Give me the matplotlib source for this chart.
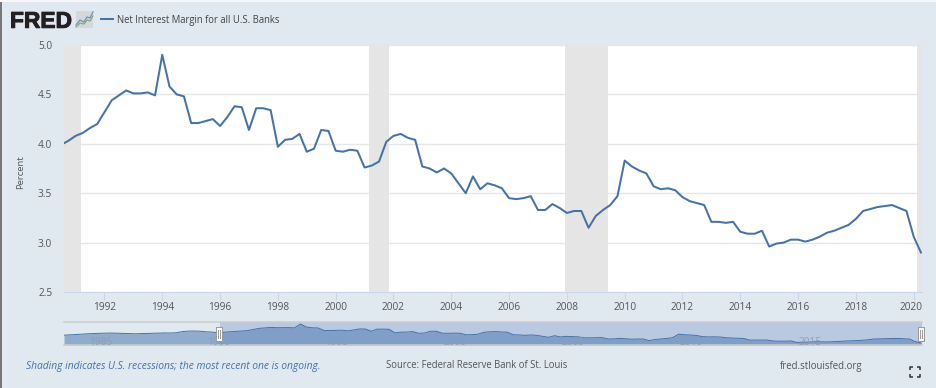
import matplotlib
matplotlib.use("Agg")
import matplotlib.pyplot as plt
import matplotlib.patheffects as pe
import numpy as np
from matplotlib.transforms import ScaledTranslation

W, H = 936, 388
BG = "#e1e9f0"
LINE = "#4572a7"
GREY_TEXT = "#555555"
plt.rcParams["font.family"] = ["Open Sans", "DejaVu Sans"]

quarters = np.arange(1984, 2020.26, 0.25)

margin_1984_1990 = [
    3.72, 3.76, 3.80, 3.84, 3.87, 3.90, 3.92, 3.94, 3.95, 3.93, 3.90, 3.88,
    3.87, 3.89, 3.92, 3.93, 3.95, 3.96, 3.95, 3.98, 4.10, 4.15, 4.16, 4.14,
    4.08, 4.05, 3.99, 4.03,
]
margin_1991_2000 = [
    4.08, 4.11, 4.16, 4.20, 4.32, 4.44, 4.49, 4.54, 4.51, 4.51, 4.52, 4.49,
    4.90, 4.58, 4.50, 4.48, 4.21, 4.21, 4.23, 4.25, 4.18, 4.27, 4.38, 4.37,
    4.14, 4.36, 4.36, 4.34, 3.97, 4.04, 4.05, 4.10, 3.92, 3.95, 4.14, 4.13,
    3.93, 3.92, 3.94, 3.93,
]
margin_2001_2010 = [
    3.76, 3.78, 3.82, 4.02, 4.08, 4.10, 4.06, 4.04, 3.77, 3.75, 3.71, 3.75,
    3.70, 3.60, 3.50, 3.67, 3.54, 3.60, 3.58, 3.55, 3.45, 3.44, 3.45, 3.47,
    3.33, 3.33, 3.39, 3.35, 3.30, 3.32, 3.32, 3.15, 3.27, 3.33, 3.38, 3.47,
    3.83, 3.77, 3.73, 3.70,
]
margin_2011_2020 = [
    3.57, 3.54, 3.55, 3.53, 3.46, 3.42, 3.40, 3.38, 3.21, 3.21, 3.20, 3.21,
    3.11, 3.09, 3.09, 3.12, 2.96, 2.99, 3.00, 3.03, 3.03, 3.01, 3.03, 3.06,
    3.10, 3.12, 3.15, 3.18, 3.24, 3.32, 3.34, 3.36, 3.37, 3.38, 3.35, 3.32,
    3.06, 2.90,
]
margin = np.array(margin_1984_1990 + margin_1991_2000 + margin_2001_2010 + margin_2011_2020)

recessions = [(1990.6, 1991.2), (2001.17, 2001.85), (2007.93, 2009.42), (2020.12, 2020.3)]
year_ticks = list(range(1992, 2021, 2))
y_ticks = [2.5, 3.0, 3.5, 4.0, 4.5, 5.0]
nav_years = [1985, 1990, 1995, 2000, 2005, 2010, 2015]
view_start, view_end = 1990.6, 2020.27


def px_axes(fig, left, top, right, bottom, **kwargs):
    return fig.add_axes([left / W, 1 - bottom / H, (right - left) / W, (bottom - top) / H], **kwargs)


fig = plt.figure(figsize=(W / 100, H / 100), dpi=100, facecolor=BG)

# main chart
ax = px_axes(fig, 64, 45, 921.5, 292, facecolor="white")
for start, end in recessions:
    ax.axvspan(start, end, color="#e5e5e5", lw=0, zorder=1)
ax.plot(quarters, margin, color=LINE, lw=1.45, zorder=3, solid_joinstyle="round")
ax.set_xlim(view_start, view_end)
ax.set_ylim(2.5, 5.0)
ax.set_yticks(y_ticks, [f"{v:.1f}" for v in y_ticks])
ax.set_xticks(year_ticks, [str(y) for y in year_ticks])
ax.grid(axis="y", color="#e6e6e6", lw=1, zorder=0)
ax.set_axisbelow(True)
for name in ["top", "left", "right"]:
    ax.spines[name].set_visible(False)
ax.spines["bottom"].set_color("#ccd6eb")
ax.tick_params(axis="x", length=6, width=0.8, color="#ccd6eb", labelsize=7.3, labelcolor=GREY_TEXT, pad=1)
ax.tick_params(axis="y", length=0, labelsize=7.3, labelcolor=GREY_TEXT, pad=8.5)
last = ax.get_xticklabels()[-1]
last.set_transform(last.get_transform() + ScaledTranslation(-2.5 / 100, 0, fig.dpi_scale_trans))

# navigator strip
nav = px_axes(fig, 64, 322, 921.5, 345, facecolor=BG)
nav.axvspan(view_start, view_end, color="#b9c9e2", lw=0, zorder=0)
nav.fill_between(quarters, margin, 2.69, where=quarters <= view_start + 0.15, color="#90abcb", lw=0, zorder=1)
nav.fill_between(quarters, margin, 2.69, where=quarters >= view_start - 0.1, color="#819ec8", lw=0, zorder=1)
nav.plot(quarters, margin, color=LINE, lw=0.7, zorder=2)
nav.set_xlim(1984, view_end)
nav.set_ylim(2.69, 5.11)
nav.set_xticks([])
nav.set_yticks([])
for name in ["left", "right"]:
    nav.spines[name].set_visible(False)
for name in ["top", "bottom"]:
    nav.spines[name].set_color("#cccccc")
    nav.spines[name].set_linewidth(1.1)
for year in nav_years:
    nav.text(year + 0.05, 2.98, str(year), fontsize=7.3, color="#8f9cad", alpha=0.9, ha="left", va="center", zorder=3)

# page furniture, drawn in pixel coordinates
page = fig.add_axes([0, 0, 1, 1], facecolor="none")
page.set_xlim(0, W)
page.set_ylim(H, 0)
page.axis("off")
page.fill_between([0, W], 0, 2, color="#f6f7f8", lw=0)
page.fill_between([0, 1.5], 2, H, color="#777777", lw=0)
page.text(10, 27.8, "FRED", fontsize=16.4, fontweight="bold", family="Liberation Sans", color="#231f20",
          va="baseline", path_effects=[pe.withStroke(linewidth=0.7, foreground="#231f20")])
page.fill_between([76, 93], 11, 28, color="#d3d8da", lw=0)
page.plot([76, 80, 84, 87, 90, 93], [25, 20, 22, 17, 18, 12], color="#6f93b8", lw=0.9)
page.plot([76, 80, 84, 87, 90, 93], [27, 23, 24, 20, 21, 16], color="#8aa878", lw=0.9)
page.plot([101, 113], [19, 19], color=LINE, lw=1.45)
page.text(117, 20.5, "Net Interest Margin for all U.S. Banks", fontsize=6.85, color="#444444", va="center")
page.text(21, 172, "Percent", fontsize=6.8, color=GREY_TEXT, rotation=90, ha="center", va="center")
page.text(26, 366, "Shading indicates U.S. recessions; the most recent one is ongoing.", fontsize=7.4,
          style="italic", color=LINE, va="center")
page.text(386.5, 366, "Source: Federal Reserve Bank of St. Louis", fontsize=6.85, color=GREY_TEXT, va="center")
page.text(780, 366, "fred.stlouisfed.org", fontsize=6.95, color=GREY_TEXT, va="center")

for handle_x in [218.5, 921]:
    page.fill_between([handle_x - 3, handle_x + 3], 327, 341, color="white", lw=0, zorder=5)
    page.plot([handle_x - 3, handle_x + 3, handle_x + 3, handle_x - 3, handle_x - 3],
              [327, 327, 341, 341, 327], color="#999999", lw=0.7, zorder=6)
    for dx in [-1, 1]:
        page.plot([handle_x + dx, handle_x + dx], [330, 338], color="#999999", lw=0.7, zorder=6)

for cx, cy, sx, sy in [(909.5, 366.5, 1, 1), (920, 366.5, -1, 1), (909.5, 376.5, 1, -1), (920, 376.5, -1, -1)]:
    page.plot([cx, cx, cx + 3 * sx], [cy + 3 * sy, cy, cy], color="#333333", lw=1.1, solid_capstyle="butt")

fig.savefig("out.png", dpi=100, facecolor=BG)
